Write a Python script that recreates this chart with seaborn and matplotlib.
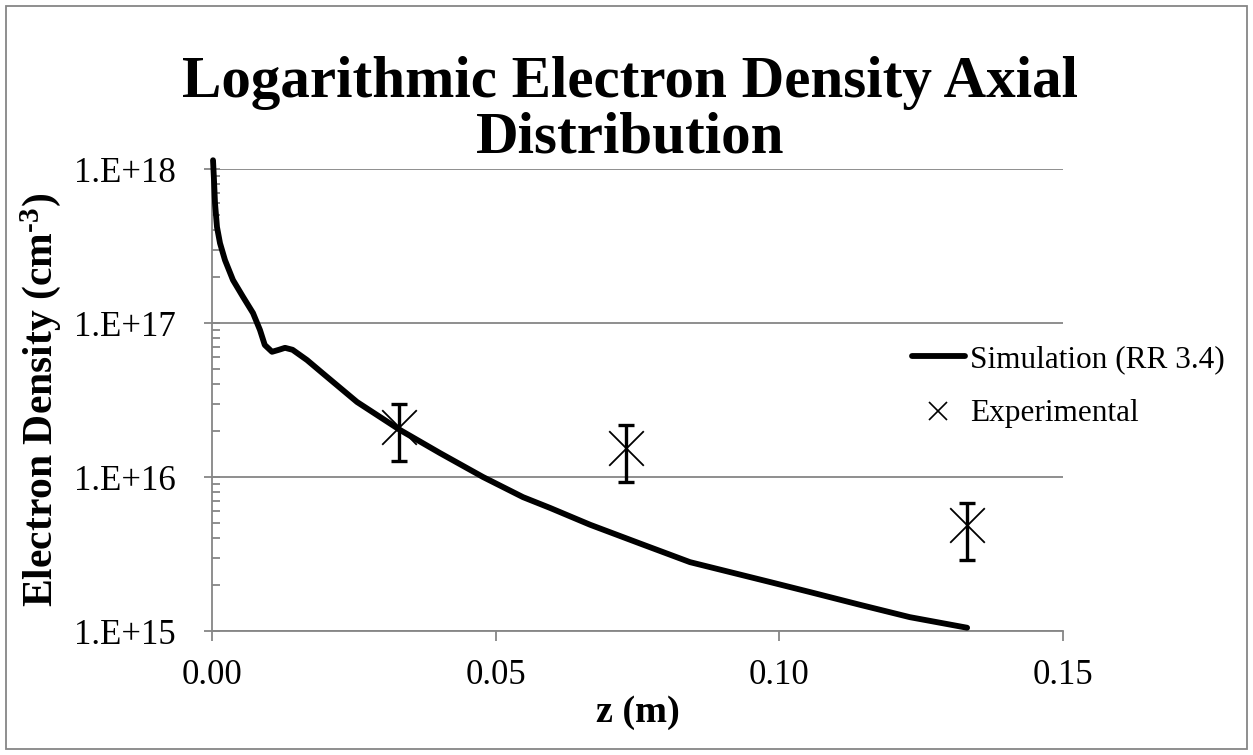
import numpy as np
import pandas as pd
import matplotlib
matplotlib.use("Agg")
import matplotlib.pyplot as plt
import matplotlib.patches as patches
from matplotlib.lines import Line2D
from matplotlib.ticker import LogLocator, FixedLocator, NullFormatter, FuncFormatter
import seaborn as sns

# ---- data ----
sim_z = [0.00018, 0.00035, 0.00053, 0.00088, 0.00141, 0.00229, 0.0037, 0.00546,
         0.00723, 0.00846, 0.0093, 0.01058, 0.0118, 0.01287, 0.0142, 0.01674,
         0.01956, 0.02556, 0.03314, 0.04019, 0.04777, 0.05482, 0.05958, 0.06663,
         0.07544, 0.08425, 0.09835, 0.1054, 0.1142, 0.1230, 0.1331]
sim_ne = [1.14e18, 8.5e17, 6.0e17, 4.2e17, 3.3e17, 2.56e17, 1.9e17, 1.48e17,
          1.16e17, 9.0e16, 7.2e16, 6.5e16, 6.7e16, 6.9e16, 6.7e16, 5.75e16,
          4.7e16, 3.07e16, 2.02e16, 1.43e16, 1.0e16, 7.4e15, 6.3e15, 4.9e15,
          3.7e15, 2.8e15, 2.08e15, 1.79e15, 1.48e15, 1.23e15, 1.05e15]
exp_z = [0.033, 0.073, 0.133]
exp_ne = [2.1e16, 1.54e16, 4.9e15]
exp_hi = [3.0e16, 2.18e16, 6.8e15]
exp_lo = [1.27e16, 9.3e15, 2.9e15]
x_ticks = [0.00, 0.05, 0.10, 0.15]
y_ticks = [1e15, 1e16, 1e17, 1e18]

title = "Logarithmic Electron Density Axial\nDistribution"
xlabel = "z (m)"
ylabel = r"Electron Density (cm$^{\text{-3}}$)"
sim_label = "Simulation (RR 3.4)"
exp_label = "Experimental"

sim_df = pd.DataFrame({"z": sim_z, "ne": sim_ne})
exp_df = pd.DataFrame({"z": exp_z, "ne": exp_ne})

# ---- style ----
sns.set_theme(style="white")
plt.rcParams["font.family"] = ["Liberation Serif", "DejaVu Serif"]
plt.rcParams["mathtext.fontset"] = "custom"
plt.rcParams["mathtext.rm"] = "Liberation Serif:bold"
plt.rcParams["mathtext.bf"] = "Liberation Serif:bold"
plt.rcParams["mathtext.it"] = "Liberation Serif:italic"
plt.rcParams["text.color"] = "black"
plt.rcParams["axes.labelcolor"] = "black"

GRAY = "#868686"

fig = plt.figure(figsize=(12.53, 7.55), dpi=100)
ax = fig.add_axes([212 / 1253, 1 - 631 / 755, 851 / 1253, 462 / 755])

sns.lineplot(data=sim_df, x="z", y="ne", ax=ax, color="black", linewidth=4.2,
             sort=False, estimator=None, clip_on=False, solid_capstyle="round",
             solid_joinstyle="round", zorder=3)

yerr = [np.array(exp_ne) - np.array(exp_lo), np.array(exp_hi) - np.array(exp_ne)]
ax.errorbar(exp_z, exp_ne, yerr=yerr, fmt="none", ecolor="black", elinewidth=2.4,
            capsize=6, capthick=2.4, zorder=4)
sns.scatterplot(data=exp_df, x="z", y="ne", ax=ax, marker="x", s=620, color="black",
                linewidth=1.3, zorder=5)

ax.set_yscale("log")
ax.set_xlim(0, 0.15)
ax.set_ylim(1e15, 1e18)
ax.xaxis.set_major_locator(FixedLocator(x_ticks))
ax.xaxis.set_major_formatter(FuncFormatter(lambda v, p: f"{v:.2f}"))
ax.yaxis.set_major_locator(FixedLocator(y_ticks))
ax.yaxis.set_major_formatter(FuncFormatter(lambda v, p: f"1.E+{int(round(np.log10(v)))}"))
ax.yaxis.set_minor_locator(LogLocator(base=10, subs=np.arange(2, 10)))
ax.yaxis.set_minor_formatter(NullFormatter())

ax.grid(True, axis="y", which="major", color=GRAY, linewidth=1.3)
ax.set_axisbelow(True)
for s in ["top", "right"]:
    ax.spines[s].set_visible(False)
for s in ["left", "bottom"]:
    ax.spines[s].set_color(GRAY)
    ax.spines[s].set_linewidth(1.3)

ax.tick_params(axis="y", which="major", direction="inout", length=12, width=1.3,
               color=GRAY, labelsize=25, labelcolor="black", pad=20, left=True)
ax.tick_params(axis="y", which="minor", direction="in", length=6, width=1.3,
               color=GRAY, left=True)
ax.tick_params(axis="x", which="major", direction="out", length=7, width=1.3,
               color=GRAY, labelsize=25, labelcolor="black", pad=13, bottom=True)

ax.set_xlabel(xlabel, fontsize=27.5, fontweight="bold", labelpad=2)
ax.set_ylabel(ylabel, fontsize=30, fontweight="bold")
ax.yaxis.set_label_coords(-(212 - 63) / 851, 0.5)

fig.text(0.503, 1 - 111 / 755, title, ha="center", va="center", fontsize=42.5,
         fontweight="bold", linespacing=1.03)

handles = [Line2D([0], [0], color="black", lw=4.2),
           Line2D([0], [0], color="black", marker="x", linestyle="none",
                  markersize=13, markeredgewidth=1.2)]
fig.legend(handles, [sim_label, exp_label], loc="upper left",
           bbox_to_anchor=(890 / 1253, 1 - 323 / 755), frameon=False, fontsize=22.5,
           handlelength=1.7, handletextpad=0.15, labelspacing=0.82, borderpad=0.2)

fig.patches.append(patches.Rectangle((6 / 1253, 6 / 755), 1 - 12 / 1253, 1 - 12 / 755,
                                     transform=fig.transFigure, fill=False,
                                     edgecolor=GRAY, linewidth=1.3))

fig.savefig("out.png", dpi=100)
